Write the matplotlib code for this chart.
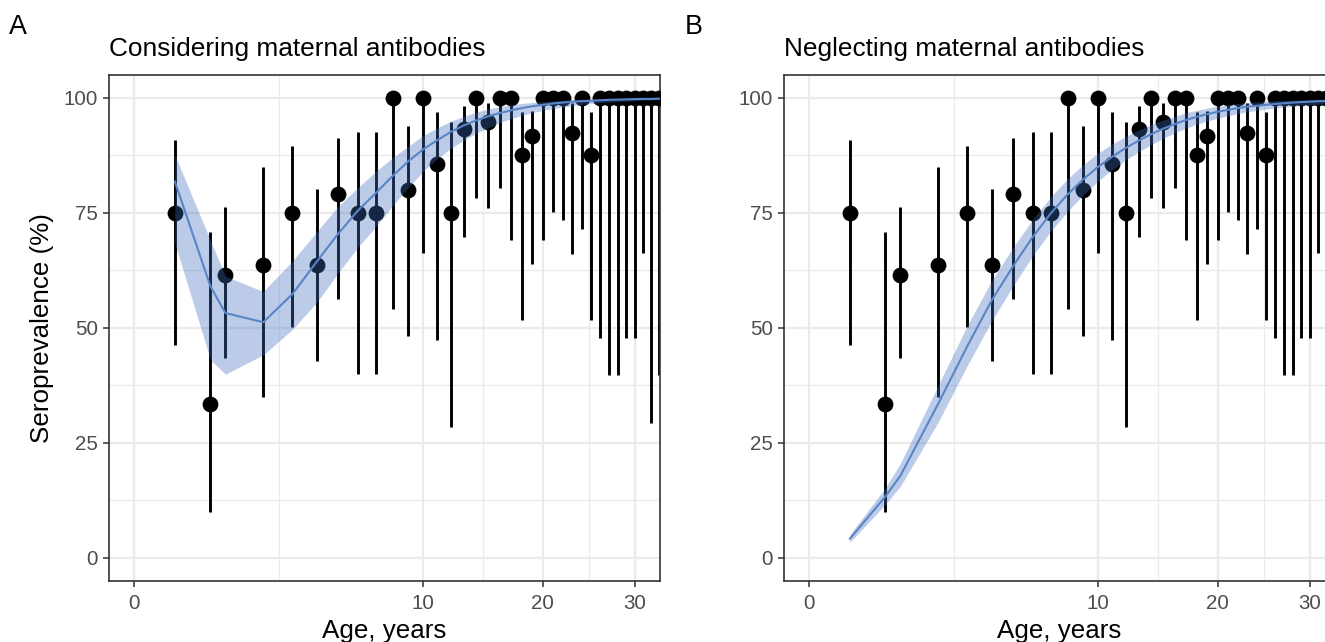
import numpy as np
import matplotlib
matplotlib.use("Agg")
import matplotlib.pyplot as plt

plt.rcParams['font.family'] = ['Liberation Sans', 'DejaVu Sans']

# observed seroprevalence by age (same data in both panels)
ages = [0.2, 0.7, 1, 2, 3, 4, 5, 6, 7, 8, 9, 10, 11, 12, 13, 14, 15, 16, 17,
        18, 19, 20, 21, 22, 23, 24, 25, 26, 27, 28, 29, 30, 31, 32, 33]
seroprev = [75, 33.3, 61.5, 63.6, 75, 63.6, 79, 75, 75, 100, 80, 100, 85.7, 75,
            93.3, 100, 94.7, 100, 100, 87.5, 91.7, 100, 100, 100, 92.3, 100,
            87.5, 100, 100, 100, 100, 100, 100, 100, 100]
ci_low = [46.2, 9.9, 43.5, 34.9, 50.1, 42.7, 56.2, 39.9, 39.9, 54.1, 48.2, 66.3,
          47.4, 28.4, 69.7, 78.3, 76.0, 80.4, 69.2, 51.7, 63.9, 69.2, 75.1,
          73.4, 66.1, 71.4, 51.7, 47.8, 39.8, 39.8, 47.8, 47.8, 66.3, 29.3, 39.8]
ci_high = [90.9, 70.9, 76.2, 84.9, 89.6, 80.3, 91.2, 92.5, 92.5, 100, 94.0, 100,
           96.9, 94.7, 98.3, 100, 98.9, 100, 100, 97.0, 97.2, 100, 100, 100,
           98.9, 100, 97.0, 100, 100, 100, 100, 100, 100, 100, 100]

# model A: considering maternal antibodies
fit_a = [81.8, 59.0, 53.2, 51.2, 57.3, 64.4, 70.5, 75.5, 79.3, 83.0, 86.2, 88.8,
         90.8, 92.6, 94.0, 95.1, 96.0, 96.7, 97.3, 97.8, 98.2, 98.5, 98.8, 99.0,
         99.2, 99.3, 99.4, 99.5, 99.6, 99.65, 99.7, 99.75, 99.8, 99.8, 99.85]
fit_a_low = [68.4, 43.0, 39.9, 44.1, 49.6, 55.5, 62.0, 67.5, 72.0, 76.5, 80.5,
             84.0, 86.8, 89.0, 90.8, 92.3, 93.5, 94.6, 95.5, 96.2, 96.8, 97.3,
             97.7, 98.0, 98.3, 98.6, 98.8, 99.0, 99.1, 99.2, 99.3, 99.4, 99.5,
             99.55, 99.6]
fit_a_high = [87.6, 69.0, 61.2, 57.9, 64.5, 70.9, 76.5, 80.5, 84.0, 87.0, 89.5,
              91.8, 93.5, 94.9, 96.0, 96.9, 97.6, 98.1, 98.5, 98.8, 99.0, 99.2,
              99.4, 99.5, 99.6, 99.7, 99.7, 99.8, 99.8, 99.85, 99.9, 99.9, 99.9,
              99.95, 99.95]

# model B: neglecting maternal antibodies
fit_b = [4.1, 13.3, 17.8, 33.5, 46.0, 56.0, 63.5, 69.8, 74.9, 79.0, 82.3, 85.0,
         87.2, 89.1, 90.7, 92.1, 93.3, 94.3, 95.2, 95.9, 96.5, 97.0, 97.4, 97.8,
         98.1, 98.3, 98.5, 98.7, 98.85, 99.0, 99.1, 99.2, 99.3, 99.35, 99.4]
fit_b_low = [3.3, 11.6, 15.5, 29.5, 41.8, 51.5, 59.2, 65.7, 71.0, 75.3, 78.9,
             81.9, 84.4, 86.5, 88.3, 89.8, 91.2, 92.4, 93.4, 94.3, 95.0, 95.6,
             96.1, 96.6, 97.0, 97.3, 97.6, 97.8, 98.0, 98.2, 98.4, 98.5, 98.65,
             98.75, 98.85]
fit_b_high = [5.0, 15.2, 20.5, 37.5, 50.5, 60.3, 67.6, 73.6, 78.5, 82.4, 85.5,
              88.0, 90.0, 91.6, 93.0, 94.2, 95.2, 96.0, 96.8, 97.3, 97.8, 98.2,
              98.5, 98.8, 99.0, 99.15, 99.3, 99.4, 99.5, 99.55, 99.6, 99.65, 99.7,
              99.75, 99.8]

x_breaks = [0, 10, 20, 30]
x_minor = [2.5, 14.57, 24.75]
y_breaks = [0, 25, 50, 75, 100]
y_minor = [12.5, 37.5, 62.5, 87.5]


def sqrt_fwd(x):
    x = np.asarray(x, dtype=float)
    return np.sign(x) * np.sqrt(np.abs(x))


def sqrt_inv(y):
    y = np.asarray(y, dtype=float)
    return np.sign(y) * np.square(y)


W, H = 1325, 642
fig = plt.figure(figsize=(W / 100, H / 100), dpi=100)

ax_left = [109, 784]
ax_w, ax_top, ax_bot = 550.6, 75, 580.5

panels = [
    ("A", "Considering maternal antibodies", fit_a, fit_a_low, fit_a_high),
    ("B", "Neglecting maternal antibodies", fit_b, fit_b_low, fit_b_high),
]

for i, (letter, title, fit, lo, hi) in enumerate(panels):
    ax = fig.add_axes([ax_left[i] / W, (H - ax_bot) / H, ax_w / W,
                       (ax_bot - ax_top) / H])
    ax.set_xscale('function', functions=(sqrt_fwd, sqrt_inv))

    ax.vlines(ages, ci_low, ci_high, colors='black', lw=2.1, zorder=2)
    ax.scatter(ages, seroprev, s=130, color='black', lw=0, zorder=3)
    ax.fill_between(ages, lo, hi, color='#3f6fbf', alpha=0.35, lw=0, zorder=4)
    ax.plot(ages, fit, color='#5985c8', lw=1.5, zorder=5)

    # ggplot-like 5% expansion in sqrt space
    s_max = np.sqrt(30)
    ax.set_xlim(sqrt_inv(-0.05 * s_max), sqrt_inv(1.05 * s_max))
    ax.set_ylim(-5, 105)

    ax.set_xticks(x_breaks)
    ax.set_xticklabels([str(v) for v in x_breaks])
    ax.set_xticks(x_minor, minor=True)
    ax.set_yticks(y_breaks)
    ax.set_yticklabels([str(v) for v in y_breaks])
    ax.set_yticks(y_minor, minor=True)

    ax.grid(True, which='major', color='#ebebeb', lw=1.6)
    ax.grid(True, which='minor', color='#ebebeb', lw=1.0)
    ax.set_axisbelow(True)

    for sp in ax.spines.values():
        sp.set_color('#333333')
        sp.set_linewidth(1.2)
    ax.tick_params(which='major', length=4.5, width=1.1, color='#333333',
                   labelsize=14.8, labelcolor='#4d4d4d', pad=3.5)
    ax.tick_params(axis='x', which='major', pad=5)
    ax.tick_params(which='minor', length=0)

    ax.set_xlabel("Age, years", fontsize=18.7, va='baseline')
    ax.xaxis.set_label_coords(0.5, (ax_bot - 638) / (ax_bot - ax_top))
    if i == 0:
        ax.set_ylabel("Seroprevalence (%)", fontsize=18.7)
        ax.yaxis.set_label_coords((54 - ax_left[0]) / ax_w, 0.5)

    ax.text(0, 1 + 19 / (ax_bot - ax_top), title, transform=ax.transAxes,
            ha='left', va='baseline', fontsize=18.9)
    fig.text([9, 685][i] / W, 1 - 34 / H, letter, ha='left', va='baseline',
             fontsize=19.4)

fig.savefig("out.png", dpi=100)
